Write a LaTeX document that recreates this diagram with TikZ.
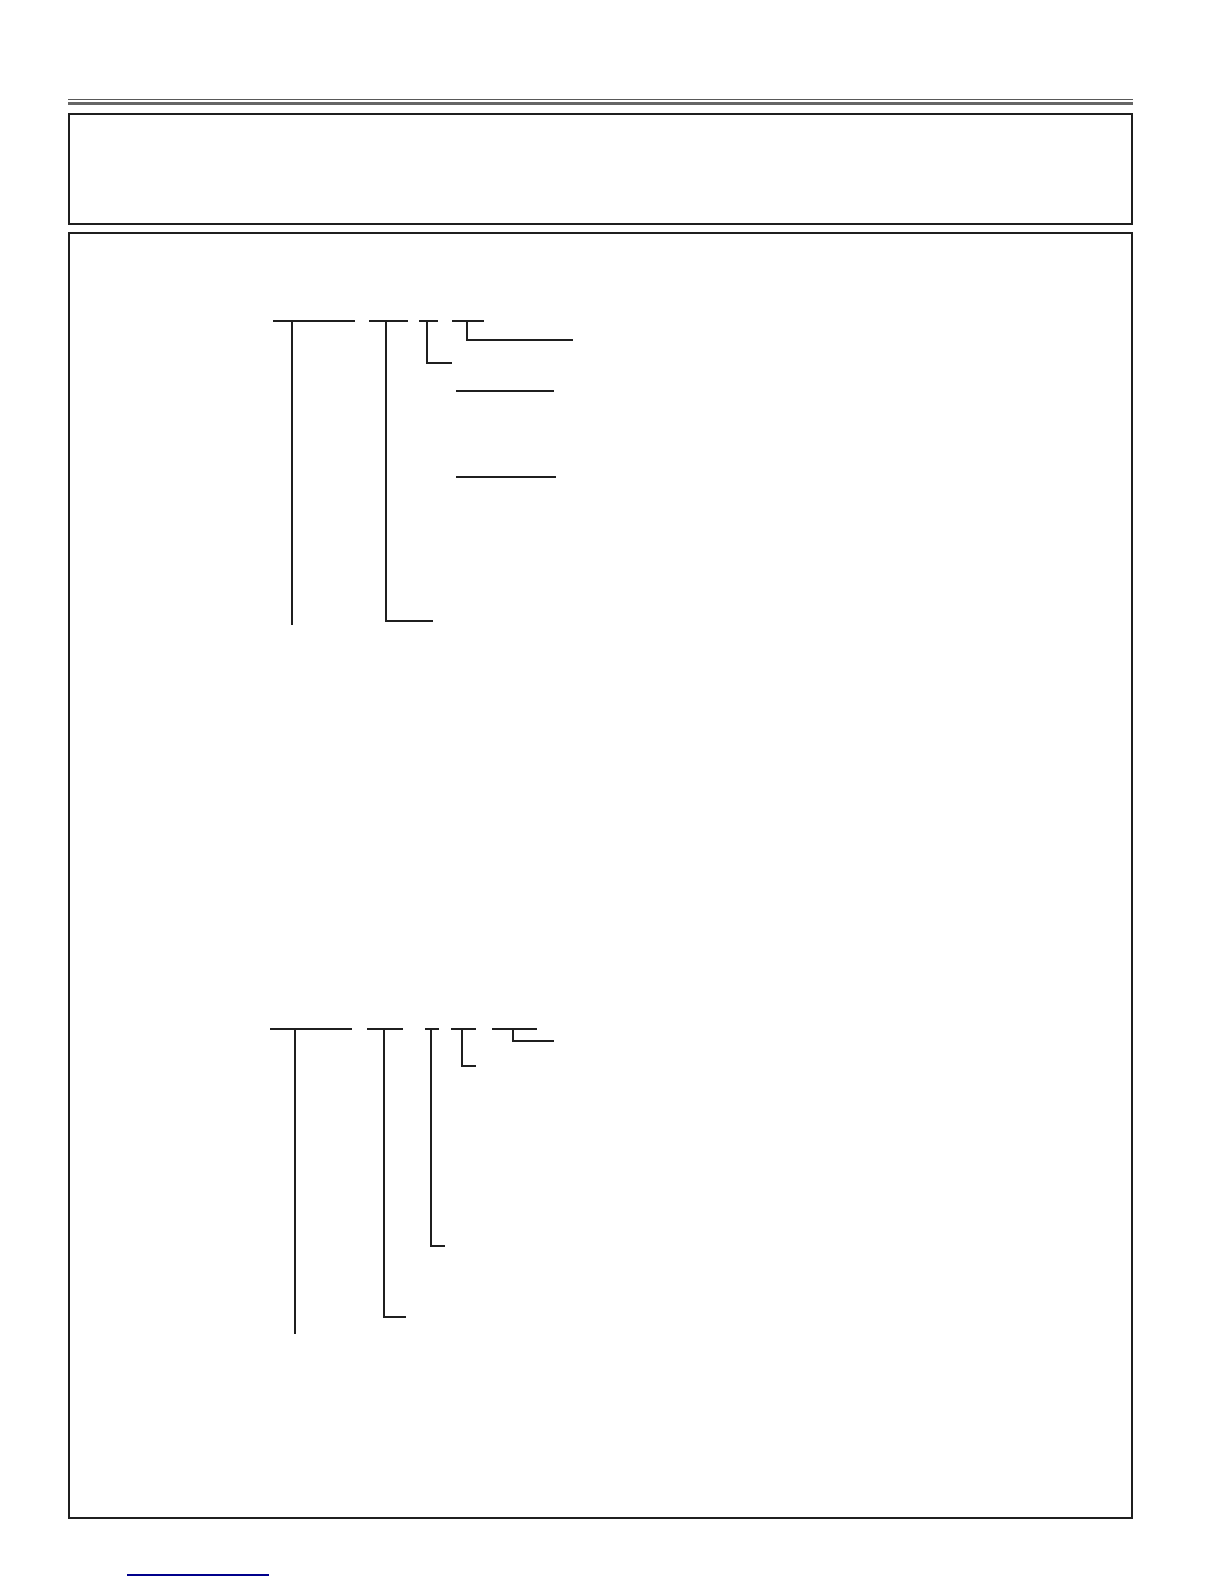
\documentclass[tikz,border=0pt]{standalone}
\begin{document}
\begin{tikzpicture}[x=1pt,y=-1pt,
  frame/.style={draw=black!88,line width=2pt},
  tree/.style={draw=black!88,line width=1.4pt},
  thin/.style={draw=black!88,line width=1.1pt}]
\useasboundingbox (0,0) rectangle (1224,1584);
% header rules
\draw[draw=black!65,line width=1.2pt] (68,99.5) -- (1133,99.5);
\draw[draw=black!60,line width=3pt] (68,103.5) -- (1133,103.5);
% frames
\draw[frame] (69,114) rectangle (1132,224);
\draw[frame] (69,233) rectangle (1132,1517.5);
% upper tree
\coordinate (ua1) at (273,321); \coordinate (ua2) at (355,321);
\coordinate (ub1) at (369,321); \coordinate (ub2) at (408,321);
\coordinate (uc1) at (419,321); \coordinate (uc2) at (438,321);
\coordinate (ud1) at (452,321); \coordinate (ud2) at (484,321);
\draw[tree] (ua1) -- (ua2);
\draw[tree] (ub1) -- (ub2);
\draw[tree] (uc1) -- (uc2);
\draw[tree] (ud1) -- (ud2);
\draw[tree] (292,321) -- (292,625);
\draw[tree] (386,321) -- (386,621) -- (433,621);
\draw[tree] (427,321) -- (427,363) -- (452,363);
\draw[tree] (467,321) -- (467,340) -- (573,340);
\draw[thin] (456,391) -- (554,391);
\draw[thin] (456,477) -- (556,477);
% lower tree
\draw[tree] (270,1029) -- (352,1029);
\draw[tree] (367,1029) -- (403,1029);
\draw[tree] (425,1029) -- (439,1029);
\draw[tree] (451,1029) -- (476,1029);
\draw[tree] (492,1029) -- (537,1029);
\draw[tree] (295,1029) -- (295,1334);
\draw[tree] (384,1029) -- (384,1317) -- (406,1317);
\draw[tree] (431,1029) -- (431,1246) -- (445,1246);
\draw[tree] (462,1029) -- (462,1066) -- (476,1066);
\draw[tree] (513,1029) -- (513,1041) -- (554,1041);
% bottom link line
\draw[draw=blue!55!black,line width=1.3pt] (127,1575) -- (269,1575);
\end{tikzpicture}
\end{document}
